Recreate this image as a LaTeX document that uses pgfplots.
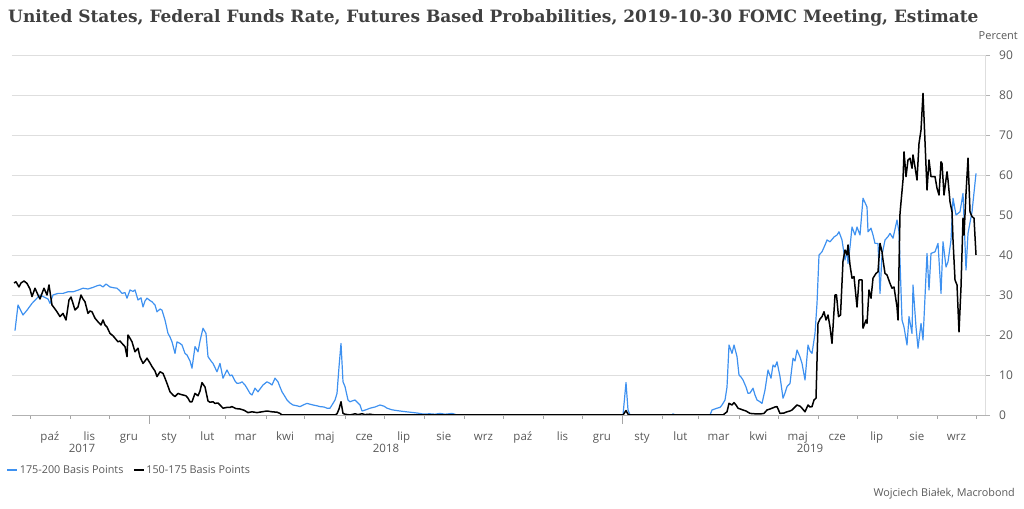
\documentclass[border=0pt]{standalone}
\usepackage{pgfplots}
\pgfplotsset{compat=1.18}
\usepackage{fontspec}
\setmainfont{Open Sans}
\newfontfamily\titlefont{DejaVu Serif}
\definecolor{bl}{RGB}{62,145,240}
\definecolor{tk}{RGB}{89,89,89}
\definecolor{gr}{RGB}{222,222,222}
\definecolor{tt}{RGB}{64,64,64}
\begin{document}
\begin{tikzpicture}[x=1pt,y=1pt]
\useasboundingbox (0,0) rectangle (1024,508);
\begin{axis}[at={(12pt,93pt)}, anchor=south west, width=973pt, height=360pt, scale only axis,
  xmin=12, xmax=985, ymin=0, ymax=90,
  /pgf/number format/assume math mode=true,
  axis x line*=bottom, axis y line*=right,
  x axis line style={-, draw=gray!60},
  y axis line style={-, draw=gr},
  ymajorgrids, grid style={draw=gr, line width=0.8pt},
  ytick={0,10,...,90}, ytick pos=right, yticklabel pos=right,
  tick align=outside, major tick length=5pt, minor tick length=4pt,
  y tick style={draw=gray!60},
  yticklabel style={font=\fontsize{12}{12}\selectfont, text=tk, anchor=west, inner sep=0pt, xshift=9pt},
  xtick={49.9,89.4,128.9,169.1,207.4,245.6,285,324.6,364.2,403.7,443.9,483.4,522.9,562.5,602,642.1,680.4,718.6,758.2,797.7,837.2,876.7,916.9,956.4},
  xticklabels={paź,lis,gru,sty,lut,mar,kwi,maj,cze,lip,sie,wrz,paź,lis,gru,sty,lut,mar,kwi,maj,cze,lip,sie,wrz},
  major x tick style={draw=none},
  minor xtick={29.8,69.9,108.8,189.2,225.5,265.6,304.5,344.7,383.6,423.8,463.9,502.8,543,581.9,662.2,698.5,738.7,777.6,817.7,856.6,896.8,937,975.8},
  minor x tick style={draw=gray!70},
  extra x ticks={149,622}, extra x tick labels={},
  extra x tick style={major x tick style={draw=gray!70}, major tick length=9pt},
  xticklabel style={font=\fontsize{11.5}{11.5}\selectfont, text=tk, anchor=base, inner sep=0pt, yshift=-20.5pt},
  legend style={at={(-0.006,-0.1528)}, anchor=west, draw=none, fill=none, inner sep=0pt, legend columns=2,
    font=\fontsize{10.8}{11}\selectfont, text=tk, nodes={inner sep=1.5pt},
    /tikz/every even column/.append style={column sep=8pt}},
  legend image code/.code={\draw[#1, line width=2pt] (0pt,0pt) -- (10pt,0pt);},
]
\addplot[bl, line width=1.2pt, line join=round] table {
15 21.1
18 27.5
23 25
27 26.2
32 27.9
35 28.7
40 30
44 29.5
48 29
50 27.9
53 30
58 30.4
63 30.4
68 30.8
73 30.8
78 31.2
83 31.7
88 31.5
93 31.9
97 32.3
100 32.5
103 32.0
106 32.75
110 32
114 31.8
117 31.7
120 31.0
122 30.4
125 30.6
127 29.2
130 31.25
133 30.9
135 31.25
138 28.75
141 29.3
143 27
145 28.5
147 29.2
150 28.6
152 28.3
155 27.5
157 25.8
160 26.5
162 26.2
165 23.75
168 20.4
170 19.5
172 18.3
175 15.4
177 18.3
180 17.9
182 17.5
185 15.4
187 15
190 13.5
192 11.7
195 17.1
198 15.8
200 18.5
203 21.7
206 20.4
208 14.6
211 13.5
213 12.9
217 10.8
220 12.9
223 9.2
227 11.25
230 9.8
232 10
235 8.5
237 7.9
240 8.0
242 8.3
245 7.5
247 6.7
250 5.4
252 5.0
255 6.7
258 5.8
260 6.5
263 7.5
267 8.3
270 7.9
272 7.5
275 9.2
278 8.3
280 7.0
282 5.8
285 4.6
287 3.75
290 3.0
293 2.5
297 2.3
300 2.1
304 2.6
307 2.9
310 2.7
313 2.5
317 2.3
320 2.1
324 2.0
327 1.7
330 1.7
333 2.9
335 3.75
337 5.4
339 12.0
341 17.9
343 8.3
345 7.1
348 3.75
350 3.3
352 3.5
355 3.75
358 3.0
360 2.5
362 1.0
366 1.3
370 1.7
375 2.0
380 2.5
384 2.2
387 1.7
392 1.3
397 1.1
403 0.9
410 0.7
417 0.5
423 0.25
430 0.3
435 0.2
440 0.4
445 0.2
449 0.3
452 0.4
457 0
500 0
550 0
600 0
623 0
626 8.1
628 1.25
630 0
650 0
672 0
673 0.3
675 0
690 0
710 0
712 1.25
717 1.7
720 1.9
722 2.5
725 3.75
727 7
729 17.5
732 15.4
734 17.5
737 14.6
739 10
741 9.5
743 8.75
746 7.0
748 5.4
750 5.5
753 6.7
755 5.0
757 3.75
760 3.3
762 2.9
765 6.25
768 11.25
771 9.2
773 12.5
775 12.0
777 13.3
780 9.6
783 4.2
785 5.5
787 7.1
790 7.9
793 14.2
795 13.5
797 16.25
800 14.5
802 12.9
805 8.75
808 17.5
810 16.0
812 15.4
815 20.4
817 27.9
819 40
822 40.8
825 42.5
827 43.75
830 43.3
834 44.5
837 45
839 45.8
842 43.75
845 38.75
847 41.25
848 37.9
850 42
852 47
855 45
857 47
860 45
863 54.2
867 52
868 45.8
871 46.7
873 45
875 42.9
878 42.9
880 30.4
882 40
885 43.75
888 44.6
890 45.4
893 44.2
897 48.75
899 45.8
902 23.75
904 22
907 17.5
909 24.6
912 20.4
913 32.5
916 22
918 16.7
921 22.9
923 18.75
927 40.4
929 31.25
931 40.4
935 40.8
938 42.9
941 30.4
943 43.3
946 37
948 38.3
951 43.75
953 54.2
956 50
960 50.8
963 55.4
966 36.25
968 45.4
972 50.8
976 60.4
};
\addlegendentry{175-200 Basis Points}
\addplot[black, line width=1.5pt, line join=round] table {
14 33
16 33.3
19 32
21 33
24 33.5
27 32.9
30 31.5
32 29.6
35 31.7
38 30
40 29
42 30.4
44 31.7
47 30
49 32.5
52 27.5
55 26.5
57 25.8
60 24.6
63 25.4
66 23.75
69 28.75
71 29.5
73 27.9
75 26.25
78 27
81 30
83 29
85 28.3
88 25.4
90 26
92 25.8
95 24.2
98 23.3
101 22.5
103 23.75
105 22.5
107 22
110 20.4
113 19.8
115 19.2
118 18.3
120 18.5
122 17.9
125 17.1
127 14.6
128 20
130 19.2
132 18.3
135 15.8
138 16.7
140 14.5
143 12.9
145 13.5
147 14.2
150 13
152 12.1
155 11
157 9.6
160 10.8
163 10.4
165 9.2
167 7.9
170 5.8
173 5
175 4.6
178 5.4
180 5.2
183 5
186 4.8
188 4.2
190 3.3
192 3.3
195 5.4
198 4.8
200 6
202 8.1
205 7
208 3.5
210 3.2
213 3.3
215 2.9
218 3
220 2.5
223 1.7
227 1.9
230 1.9
232 2.1
236 1.6
240 1.5
244 1.2
248 0.6
252 0.8
257 0.6
262 0.8
267 1.0
272 0.8
277 0.7
280 0.4
282 0
300 0
335 0
337 0.3
339 1.5
341 3.3
343 0.4
345 0.2
350 0
355 0.3
358 0.1
362 0.3
365 0.1
370 0.2
375 0
450 0
550 0
623 0
626 1.1
628 0.2
630 0
700 0
723 0
727 0.8
729 2.9
732 2.5
734 3.1
736 2.5
738 1.7
743 1.25
746 1.0
750 0.4
755 0.3
760 0.25
764 0.4
767 1.25
770 1.5
772 1.7
775 2.0
777 2.1
780 0.4
784 0.5
787 0.8
790 1.0
792 1.25
795 2.0
797 2.5
800 2.2
802 1.7
805 0.8
808 2.5
810 2.0
812 2.1
814 3.75
816 4.2
818 22.9
820 24
822 24.6
824 25.8
826 23.75
828 25
830 22
832 17.9
835 30
836.5 30
838.5 24.6
840.5 25
843 38.5
845 41.25
847 40
848 42.5
850 37.5
852 34.2
854 34.6
857 27
859 33.75
862 33.75
863 21.7
866 23.75
867 22.9
869 31.25
871 29.2
873 34.2
876 35.4
878 35.8
880 42.9
882 40.8
883 38.75
885 35.4
887 35
890 32.9
892 31.7
894 32
897 27
898 23.75
900 50.4
903 58.75
904 65.8
906 59.6
908 63.75
910 64.2
912 61.7
913 65
915 62
917 58.75
919 67.9
921 71.25
923 80.4
925 68.3
927 56.25
929 63.75
931 59.6
935 59.6
937 56.7
939 55
941 63.3
942 62.9
944 55
947 60.8
948 58.75
950 53.3
952 50.8
953 43.75
955 33.75
957 32.5
959 20.8
961 32
963 49.2
964 45
966 55.4
968 64.2
970 50.8
972 49.6
974 49.2
976 40
};
\addlegendentry{150-175 Basis Points}
\end{axis}
\node[anchor=base west, inner sep=0pt, text=tt, font=\titlefont\bfseries\fontsize{17}{17}\selectfont] at (8,485) {United States, Federal Funds Rate, Futures Based Probabilities, 2019-10-30 FOMC Meeting, Estimate};
\node[anchor=base east, inner sep=0pt, text=tk, font=\fontsize{11}{11}\selectfont] at (1018,468.5) {Percent};
\node[anchor=base, inner sep=0pt, text=tk, font=\fontsize{11.5}{11.5}\selectfont] at (82,55.5) {2017};
\node[anchor=base, inner sep=0pt, text=tk, font=\fontsize{11.5}{11.5}\selectfont] at (386,55.5) {2018};
\node[anchor=base, inner sep=0pt, text=tk, font=\fontsize{11.5}{11.5}\selectfont] at (810,55.5) {2019};
\node[anchor=base east, inner sep=0pt, text=tk, font=\fontsize{10.8}{11}\selectfont] at (1015,11.3) {Wojciech Białek, Macrobond};
\end{tikzpicture}
\end{document}
